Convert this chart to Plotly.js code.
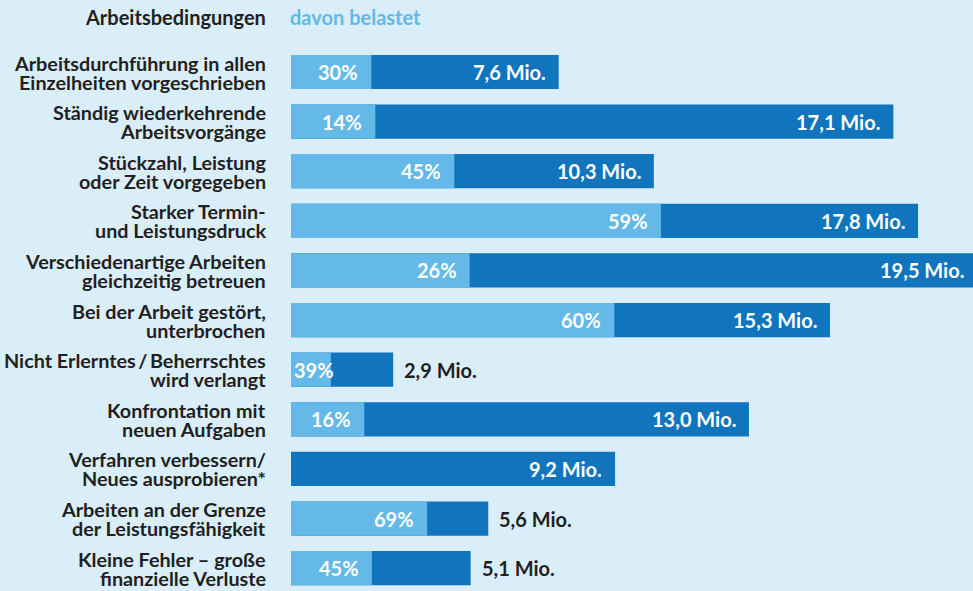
<!DOCTYPE html>
<html><head><meta charset="utf-8">
<script src="https://cdn.plot.ly/plotly-3.0.1.min.js"></script>
<style>html,body{margin:0;padding:0;background:#d9eef9;}#chart{width:973px;height:591px;}</style>
</head><body><div id="chart"></div>
<script>
const labelLine1 = ["Arbeitsdurchführung in allen","Ständig wiederkehrende","Stückzahl, Leistung","Starker Termin-","Verschiedenartige Arbeiten","Bei der Arbeit gestört,","Nicht Erlerntes\u2009/\u2009Beherrschtes","Konfrontation mit","Verfahren verbessern/","Arbeiten an der Grenze","Kleine Fehler – große"];
const labelLine2 = ["Einzelheiten vorgeschrieben","Arbeitsvorgänge","oder Zeit vorgegeben","und Leistungsdruck","gleichzeitig betreuen","unterbrochen","wird verlangt","neuen Aufgaben","Neues ausprobieren*","der Leistungsfähigkeit","finanzielle Verluste"];
const totalMio = [7.6,17.1,10.3,17.8,19.5,15.3,2.9,13.0,9.2,5.6,5.1];
const pctBelastet = [30,14,45,59,26,60,39,16,null,69,45];
const headerLeft = "Arbeitsbedingungen";
const headerRight = "davon belastet";

const idx = totalMio.map((_, i) => i);
const lightX = totalMio.map((t, i) => pctBelastet[i] == null ? 0 : t * pctBelastet[i] / 100);
const fmt = v => v.toFixed(1).replace('.', ',') + ' Mio.';

const DARK = '#1175bd', LIGHT = '#64b9e8', TXT = '#231f20', BG = '#d9eef9';
const FONT = 'Lato, "Open Sans", sans-serif';
const xMax = 19.36; // visible axis extent; longest bar runs off the right edge as in the original

const traces = [
  {type:'bar', orientation:'h', y: idx, x: totalMio, width:0.69, marker:{color:DARK}, hoverinfo:'none'},
  {type:'bar', orientation:'h', y: idx, x: lightX, width:0.69, marker:{color:LIGHT}, hoverinfo:'none'}
];

const ann = [];
idx.forEach(i => {
  ann.push({xref:'paper', yref:'y', x:0, y:i, xanchor:'right', yanchor:'middle', xshift:-23, yshift:9.5,
    text:'<b>'+labelLine1[i]+'</b>', showarrow:false, font:{family:FONT,size:19.8,color:TXT}});
  ann.push({xref:'paper', yref:'y', x:0, y:i, xanchor:'right', yanchor:'middle', xshift:-23, yshift:-9.5,
    text:'<b>'+labelLine2[i]+'</b>', showarrow:false, font:{family:FONT,size:19.8,color:TXT}});
  const outside = totalMio[i] < 6;
  const clipped = totalMio[i] > xMax;
  ann.push({xref:'x', yref:'y', x: Math.min(totalMio[i], xMax), y:i, xanchor: outside ? 'left':'right', yanchor:'middle',
    xshift: outside ? 9 : (clipped ? -7 : -11), text:'<b>'+fmt(totalMio[i])+'</b>', showarrow:false,
    font:{family:FONT,size:20,color: outside ? TXT : '#ffffff'}});
  if (pctBelastet[i] != null) {
    const small = lightX[i] < 1.5;
    ann.push({xref:'x', yref:'y', x: small ? 0 : lightX[i], y:i, xanchor: small ? 'left':'right', yanchor:'middle',
      xshift: small ? 1 : -11, text:'<b>'+pctBelastet[i]+'%</b>', showarrow:false,
      font:{family:FONT,size:20,color:'#ffffff'}});
  }
});
ann.push({xref:'paper', yref:'paper', x:0, y:1, xanchor:'right', yanchor:'middle', xshift:-23, yshift:30,
  text:'<b>'+headerLeft+'</b>', showarrow:false, font:{family:FONT,size:20,color:TXT}});
ann.push({xref:'paper', yref:'paper', x:0, y:1, xanchor:'left', yanchor:'middle', xshift:-3, yshift:30,
  text:'<b>'+headerRight+'</b>', showarrow:false, font:{family:FONT,size:20,color:LIGHT}});

const layout = {
  width:973, height:591, paper_bgcolor:BG, plot_bgcolor:BG,
  margin:{l:291, r:0, t:47, b:0},
  barmode:'overlay', showlegend:false,
  xaxis:{range:[0,xMax], visible:false, fixedrange:true},
  yaxis:{range:[10.46,-0.504], visible:false, fixedrange:true},
  annotations: ann,
  font:{family:FONT}
};
Plotly.newPlot('chart', traces, layout, {staticPlot:true});
</script></body></html>
